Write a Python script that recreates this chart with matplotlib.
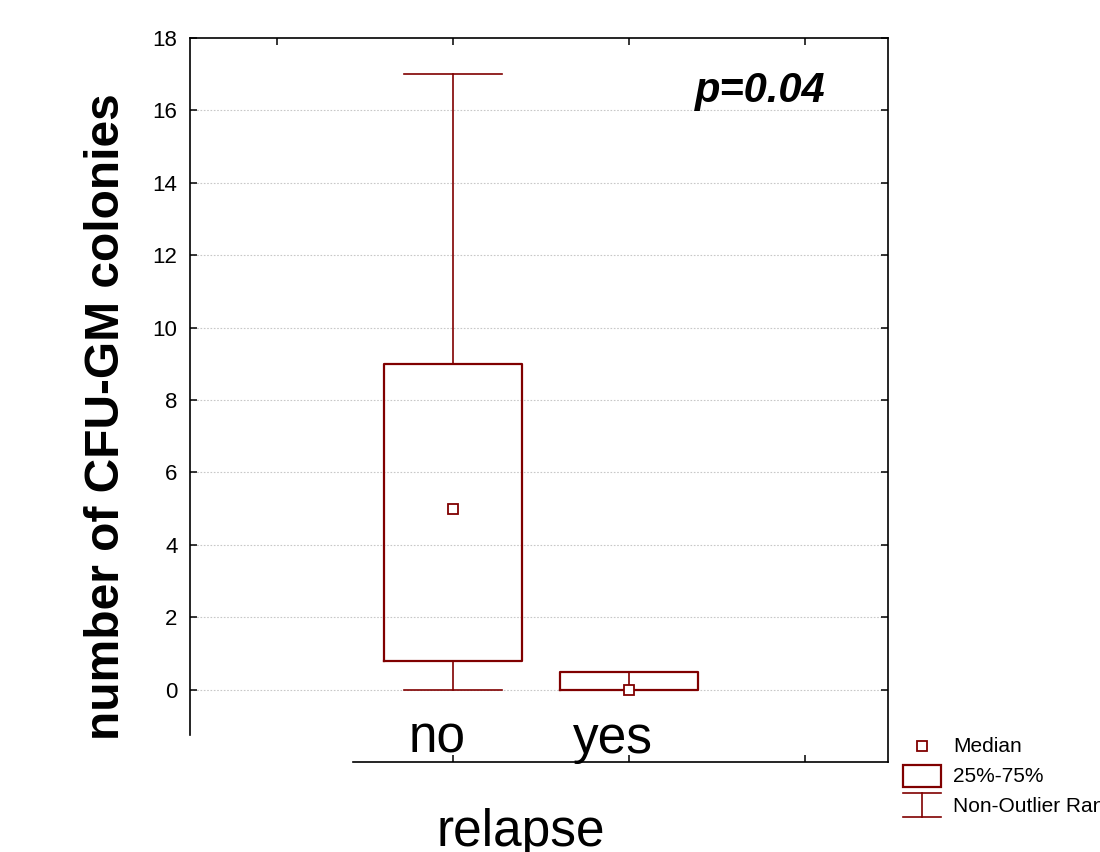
import matplotlib
matplotlib.use('Agg')
import matplotlib.pyplot as plt
import matplotlib.transforms as mtransforms
from matplotlib.patches import Rectangle
from matplotlib.lines import Line2D

plt.rcParams['font.family'] = ['Liberation Sans', 'DejaVu Sans']

# data
groups = ['no', 'yes']
q1 = [0.8, 0.0]
q3 = [9.0, 0.5]
medians = [5.0, 0.0]
whisker_lo = [0.0, 0.0]
whisker_hi = [17.0, 0.0]
yticks = [0, 2, 4, 6, 8, 10, 12, 14, 16, 18]
p_text = 'p=0.04'

red = '#800000'

fig = plt.figure(figsize=(11, 8.52), dpi=100)
ax = fig.add_axes([190/1100, 1-762/852, (888-190)/1100, (762-38)/852])

positions = [1, 2]
stats = []
for i, g in enumerate(groups):
    stats.append({'label': g, 'med': medians[i], 'q1': q1[i], 'q3': q3[i],
                  'whislo': whisker_lo[i], 'whishi': whisker_hi[i], 'fliers': []})

ax.bxp(stats, positions=positions, widths=0.78, capwidths=0.56,
       showfliers=False, manage_ticks=False,
       boxprops=dict(color=red, linewidth=1.6),
       whiskerprops=dict(color=red, linewidth=1.2),
       capprops=dict(color=red, linewidth=1.2),
       medianprops=dict(linewidth=0))
ax.plot(positions, medians, linestyle='none', marker='s', markersize=6.5,
        markerfacecolor='white', markeredgecolor=red, markeredgewidth=1.3, zorder=5)

ax.set_xlim(-0.494, 3.47)
ax.set_ylim(-2, 18)

# spines like the original
for s in ax.spines.values():
    s.set_linewidth(1.2)
ax.spines['left'].set_bounds(-1.25, 18)
ax.spines['bottom'].set_bounds(0.43, 3.47)

ax.set_yticks(yticks)
ax.set_yticklabels([str(t) for t in yticks], fontsize=16)
ax.tick_params(axis='y', direction='in', length=5, width=1.1, right=True, pad=9)
ax.set_xticks([1, 2, 3])
ax.set_xticklabels([])
ax.tick_params(axis='x', direction='in', length=5, width=1.1, top=False)

# top ticks at 0..3
secx = ax.secondary_xaxis('top')
secx.set_xticks([0, 1, 2, 3])
secx.set_xticklabels([])
secx.tick_params(direction='in', length=5, width=1.1)
secx.spines['top'].set_visible(False)

for t in yticks[:-1]:
    ax.axhline(t, color='#c8c8c8', linestyle=(0, (1.5, 1.5)), linewidth=0.8, zorder=0)

# category labels sit inside the frame, just above the bottom line
trans = mtransforms.blended_transform_factory(ax.transData, ax.transAxes)
trans = trans + mtransforms.ScaledTranslation(-16/100, 0, fig.dpi_scale_trans)
for pos, g in zip(positions, groups):
    ax.text(pos, 0.0125, g, transform=trans, ha='center', va='baseline', fontsize=37)

ax.text(0.911, 0.9116, p_text, transform=ax.transAxes, ha='right', va='baseline',
        fontsize=30, fontweight='bold', fontstyle='italic')

fig.text(521/1100, 1-846/852, 'relapse', ha='center', va='baseline', fontsize=37)
fig.text(107/1100, 1-417/852, 'number of CFU-GM colonies', rotation=90,
         ha='center', va='center', fontsize=34.5, fontweight='bold')

# legend drawn by hand, outside the plot
lax = fig.add_axes([0, 0, 1, 1], facecolor='none')
lax.set_xlim(0, 1100)
lax.set_ylim(852, 0)
lax.axis('off')
lax.plot([922], [746], linestyle='none', marker='s', markersize=6.5,
         markerfacecolor='white', markeredgecolor=red, markeredgewidth=1.3)
lax.add_patch(Rectangle((903, 765), 38, 22, facecolor='white', edgecolor=red, linewidth=1.6))
lax.add_line(Line2D([903, 941], [793, 793], color=red, linewidth=1.2))
lax.add_line(Line2D([903, 941], [817, 817], color=red, linewidth=1.2))
lax.add_line(Line2D([922, 922], [793, 817], color=red, linewidth=1.2))
for yy, lab in zip([747, 776, 806], ['Median', '25%-75%', 'Non-Outlier Range']):
    lax.text(953, yy, lab, ha='left', va='center', fontsize=15)

fig.savefig('out.png', dpi=100)
